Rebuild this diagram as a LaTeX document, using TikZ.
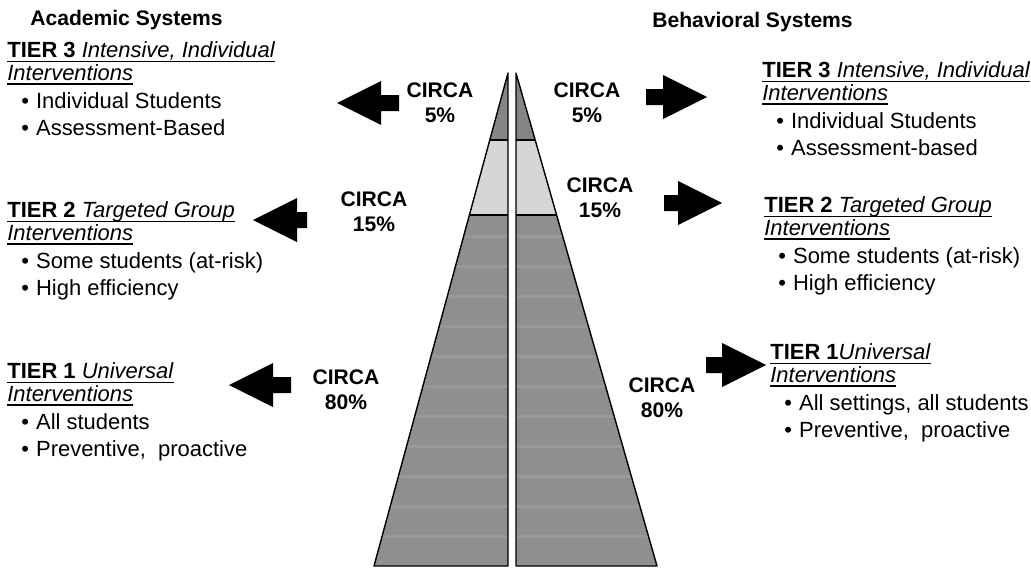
\documentclass[tikz,border=0pt]{standalone}
\usepackage{fontspec}
\setmainfont{Liberation Sans}
\usetikzlibrary{positioning}
\definecolor{bandtop}{gray}{0.52}
\definecolor{bandmid}{gray}{0.84}
\definecolor{bandlow}{gray}{0.56}
\definecolor{bandstripe}{gray}{0.60}
\newsavebox{\ulbox}
\newcommand{\tieruline}[1]{\sbox{\ulbox}{#1}\rlap{\rule[-2.6pt]{\wd\ulbox}{0.7pt}}\usebox{\ulbox}}
\newcommand{\tiertitle}[2]{\tieruline{\textbf{#1}\textit{#2}}}
\newcommand{\tieritem}[1]{\hspace*{8pt}\textbullet\hspace{4pt}#1}
\tikzset{
  pics/bigarrow/.style={code={
    \fill (0,0) -- (44,-22) -- (44,-8) -- (#1,-8) -- (#1,8) -- (44,8) -- (44,22) -- cycle;
  }},
  pics/bigarrow/.default=60,
}

\begin{document}
\begin{tikzpicture}[x=0.02cm,y=-0.02cm,
  tiertext/.style={anchor=north west,align=left,inner sep=0pt,font=\fontsize{12.5}{13}\selectfont},
  circa/.style={align=center,inner sep=0pt,font=\bfseries\fontsize{12}{14.2}\selectfont},
  heading/.style={anchor=base west,inner sep=0pt,font=\bfseries\fontsize{12}{14}\selectfont},
  edge/.style={line width=0.8pt,line join=round}]

        \useasboundingbox (0,0) rectangle (1031,568);

        % pyramid, two halves
        \coordinate (apexL) at (508,73);
        \coordinate (apexR) at (516,73);
        \coordinate (footL) at (374,566);
        \coordinate (footR) at (657,566);

        \begin{scope}
          \clip (apexL) -- (508,566) -- (footL) -- cycle;
          \fill[bandlow] (360,215) rectangle (520,570);
          \fill[bandmid] (360,140) rectangle (520,215);
          \fill[bandtop] (360,60) rectangle (520,140);
          \foreach \y in {235,265,...,565}
            \fill[bandstripe] (360,\y) rectangle (520,\y+3);
        \end{scope}
        \begin{scope}
          \clip (apexR) -- (516,566) -- (footR) -- cycle;
          \fill[bandlow] (505,215) rectangle (670,570);
          \fill[bandmid] (505,140) rectangle (670,215);
          \fill[bandtop] (505,60) rectangle (670,140);
          \foreach \y in {235,265,...,565}
            \fill[bandstripe] (505,\y) rectangle (670,\y+3);
        \end{scope}

        \draw[edge] (apexL) -- (508,566) -- (footL) -- cycle;
        \draw[edge] (apexR) -- (516,566) -- (footR) -- cycle;
        \draw[edge] (489.7,140) -- (508,140);
        \draw[edge] (469.3,215) -- (508,215);
        \draw[edge] (516,140) -- (535.1,140);
        \draw[edge] (516,215) -- (556.5,215);

        % headings
        \node[heading] (acad) at (30,26) {Academic Systems};
        \node[heading] (behav) at (652,28) {Behavioral Systems};

        % percentages
        \node[circa] (circaL3) at (440,103) {CIRCA\\5\%};
        \node[circa] (circaL2) at (374,212) {CIRCA\\15\%};
        \node[circa] (circaL1) at (346,390) {CIRCA\\80\%};
        \node[circa] (circaR3) at (587,103) {CIRCA\\5\%};
        \node[circa] (circaR2) at (600,198) {CIRCA\\15\%};
        \node[circa] (circaR1) at (662,398) {CIRCA\\80\%};

        % academic tiers
        \node[tiertext] (acadT3) at (7,41) {\tiertitle{TIER 3}{ Intensive, Individual}\\
          \tieruline{\textit{Interventions}}\\[3.4pt]
          \tieritem{Individual Students}\\[2.3pt]
          \tieritem{Assessment-Based}};
        \node[tiertext] (acadT2) at (7,201) {\tiertitle{TIER 2}{ Targeted Group}\\
          \tieruline{\textit{Interventions}}\\[3.4pt]
          \tieritem{Some students (at-risk)}\\[2.3pt]
          \tieritem{High efficiency}};
        \node[tiertext] (acadT1) at (7,362) {\tiertitle{TIER 1}{ Universal}\\
          \tieruline{\textit{Interventions}}\\[3.4pt]
          \tieritem{All students}\\[2.3pt]
          \tieritem{Preventive,~~proactive}};

        % behavioral tiers
        \node[tiertext] (behavT3) at (762,61) {\tiertitle{TIER 3}{ Intensive, Individual}\\
          \tieruline{\textit{Interventions}}\\[3.4pt]
          \tieritem{Individual Students}\\[2.3pt]
          \tieritem{Assessment-based}};
        \node[tiertext] (behavT2) at (764,196) {\tiertitle{TIER 2}{ Targeted Group}\\
          \tieruline{\textit{Interventions}}\\[3.4pt]
          \tieritem{Some students (at-risk)}\\[2.3pt]
          \tieritem{High efficiency}};
        \node[tiertext] (behavT1) at (770,343) {\tiertitle{TIER 1}{Universal}\\
          \tieruline{\textit{Interventions}}\\[3.4pt]
          \tieritem{All settings, all students}\\[2.3pt]
          \tieritem{Preventive,~~proactive}};

        % block arrows
        \pic at (337,103) {bigarrow=62};
        \pic at (253,220) {bigarrow=54};
        \pic at (229,385) {bigarrow=62};
        \pic[xscale=-1] at (707,97) {bigarrow=61};
        \pic[xscale=-1] at (722,203) {bigarrow=58};
        \pic[xscale=-1] at (766,365) {bigarrow=60};

\end{tikzpicture}
\end{document}
